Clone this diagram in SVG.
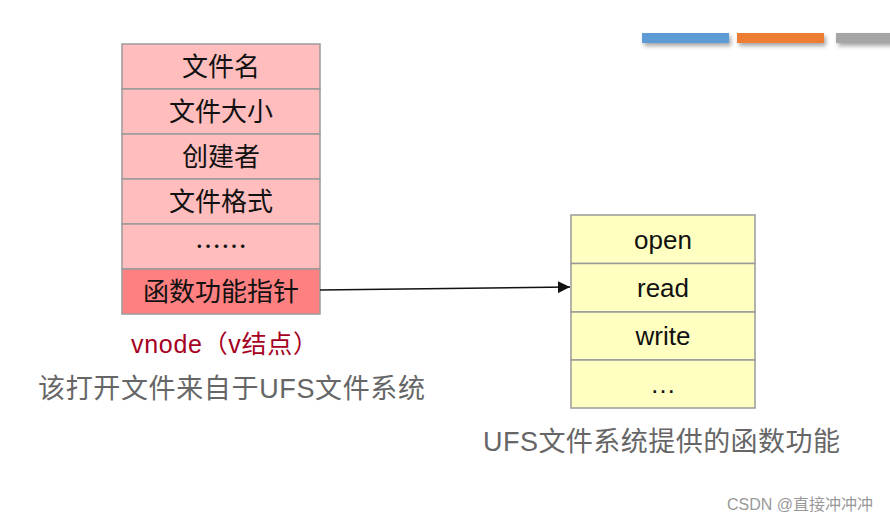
<svg xmlns="http://www.w3.org/2000/svg" width="890" height="524" viewBox="0 0 890 524">
<defs>
<style>
.cell{stroke:#9a9a9a;stroke-width:1.5}
.p{fill:#FFBDBD}
.pd{fill:#FF8080}
.y{fill:#FFFFC2}
.t{font-family:"Noto Sans CJK SC","Liberation Sans",sans-serif;font-size:26px;fill:#111;text-anchor:middle}
.e{font-family:"Liberation Sans","Noto Sans CJK SC",sans-serif;font-size:26px;fill:#111;text-anchor:middle}
.cap{font-family:"Liberation Sans","Noto Sans CJK SC",sans-serif;font-size:27px;fill:#666}
</style>
<marker id="arr" viewBox="0 0 10 10" refX="10" refY="5" markerWidth="17" markerHeight="12" markerUnits="userSpaceOnUse" orient="auto"><path d="M0,0 L10,5 L0,10 z" fill="#111"/></marker>
<filter id="sh" x="-10%" y="-50%" width="130%" height="250%"><feDropShadow dx="2" dy="3" stdDeviation="2" flood-color="#000" flood-opacity="0.35"/></filter>
</defs>
<rect width="890" height="524" fill="#fff"/>
<g id="bars" filter="url(#sh)">
<rect x="642" y="33" width="87" height="10" fill="#5B9BD5"/>
<rect x="737" y="33" width="87" height="10" fill="#ED7D31"/>
<rect x="836" y="33" width="60" height="10" fill="#A5A5A5"/>
</g>
<g id="vnode">
<rect class="cell p" x="122" y="44" width="198" height="45"/>
<rect class="cell p" x="122" y="89" width="198" height="45"/>
<rect class="cell p" x="122" y="134" width="198" height="45"/>
<rect class="cell p" x="122" y="179" width="198" height="45"/>
<rect class="cell p" x="122" y="224" width="198" height="45"/>
<rect class="cell pd" x="122" y="269" width="198" height="45"/>
<text class="t" x="221" y="76">文件名</text>
<text class="t" x="221" y="121">文件大小</text>
<text class="t" x="221" y="166">创建者</text>
<text class="t" x="221" y="211">文件格式</text>
<text class="t" x="221" y="256">……</text>
<text class="t" x="221" y="301">函数功能指针</text>
</g>
<g id="ufs">
<rect class="cell y" x="571" y="215" width="184" height="48.5"/>
<rect class="cell y" x="571" y="263.5" width="184" height="48.5"/>
<rect class="cell y" x="571" y="312" width="184" height="48"/>
<rect class="cell y" x="571" y="360" width="184" height="48"/>
<text class="e" x="663" y="249">open</text>
<text class="e" x="663" y="297">read</text>
<text class="e" x="663" y="345">write</text>
<text class="e" x="663" y="393">…</text>
</g>
<g id="connectors">
<line x1="320" y1="290" x2="570" y2="287" stroke="#111" stroke-width="1.5" marker-end="url(#arr)"/>
</g>
<g id="labels">
<text x="131" y="353" font-family="Liberation Sans,Noto Sans CJK SC,sans-serif" font-size="25" fill="#A50021" textLength="187">vnode（v结点）</text>
<text class="cap" x="38" y="398" textLength="387">该打开文件来自于UFS文件系统</text>
<text class="cap" x="483" y="451" textLength="357">UFS文件系统提供的函数功能</text>
<text x="727" y="510" font-family="Liberation Sans,Noto Sans CJK SC,sans-serif" font-size="16" fill="#999">CSDN @直接冲冲冲</text>
</g>
</svg>
